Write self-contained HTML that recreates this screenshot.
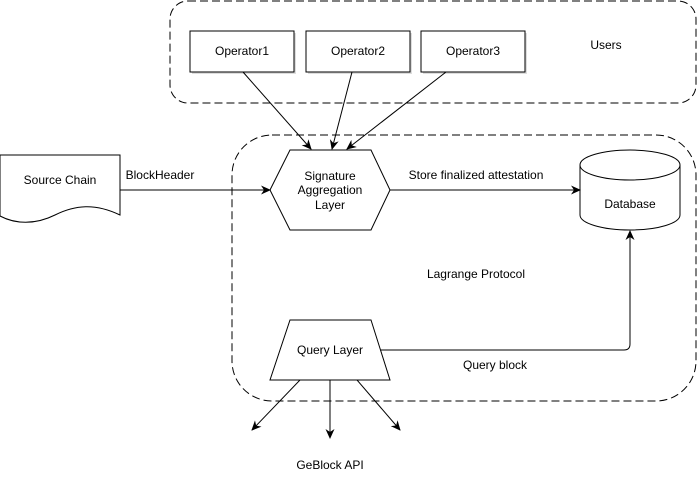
<!DOCTYPE html>
<html><head><style>body{margin:0;background:#fff}svg{display:block}text{font-family:"Liberation Sans",Arial,sans-serif;font-size:12px;fill:#000}</style></head><body>
<svg width="698" height="481" viewBox="0 0 698 481">
<defs><marker id="a" markerWidth="10" markerHeight="10" refX="9" refY="5" orient="auto" markerUnits="userSpaceOnUse"><path d="M0,0.5 L10,5 L0,9.5 L3,5 Z" fill="#000"/></marker></defs>
<g fill="none" stroke="#000" stroke-dasharray="8,4">
<rect x="170" y="1" width="526" height="102" rx="18"/>
<rect x="232" y="135" width="464" height="266" rx="40"/>
</g>
<g fill="#fff" stroke="#000" stroke-width="1">
<rect x="192" y="33" width="104" height="41" fill="#ddd" stroke="none"/>
<rect x="190" y="31" width="104" height="41"/>
<rect x="308" y="33" width="104" height="41" fill="#ddd" stroke="none"/>
<rect x="306" y="31" width="104" height="41"/>
<rect x="423" y="33" width="104" height="41" fill="#ddd" stroke="none"/>
<rect x="421" y="31" width="104" height="41"/>
<path d="M270,190 L290,150 L371,150 L390,190 L371,230 L290,230 Z"/>
<path d="M0,155 L120,155 L120,215 C95,203 75,205 55,215 C35,225 15,224 0,216 Z"/>
<path d="M580,165 L580,215 A50,15 0 0 0 680,215 L680,165"/>
<ellipse cx="630" cy="165" rx="50" ry="15"/>
<path d="M290,320 L371,320 L390,380 L270,380 Z"/>
</g>
<g fill="none" stroke="#000">
<line x1="243" y1="72" x2="311" y2="149" marker-end="url(#a)"/>
<line x1="352" y1="72" x2="332" y2="149" marker-end="url(#a)"/>
<line x1="446" y1="72" x2="347" y2="149" marker-end="url(#a)"/>
<line x1="120" y1="190" x2="270" y2="190" marker-end="url(#a)"/>
<line x1="390" y1="190" x2="580" y2="190" marker-end="url(#a)"/>
<path d="M380,350 L624,350 Q630,350 630,344 L630,231" marker-end="url(#a)"/>
<line x1="300" y1="380" x2="252" y2="430" marker-end="url(#a)"/>
<line x1="330" y1="380" x2="330" y2="438" marker-end="url(#a)"/>
<line x1="357" y1="380" x2="400" y2="430" marker-end="url(#a)"/>
</g>
<g text-anchor="middle">
<text x="242" y="55">Operator1</text>
<text x="358" y="55">Operator2</text>
<text x="473" y="55">Operator3</text>
<text x="606" y="49">Users</text>
<text x="60" y="184">Source Chain</text>
<text x="160" y="179">BlockHeader</text>
<text x="330" y="180">Signature</text>
<text x="330" y="194">Aggregation</text>
<text x="330" y="209">Layer</text>
<text x="476" y="179">Store finalized attestation</text>
<text x="630" y="208">Database</text>
<text x="476" y="278">Lagrange Protocol</text>
<text x="330" y="354">Query Layer</text>
<text x="495" y="369">Query block</text>
<text x="330" y="469">GeBlock API</text>
</g>
</svg>
</body></html>
